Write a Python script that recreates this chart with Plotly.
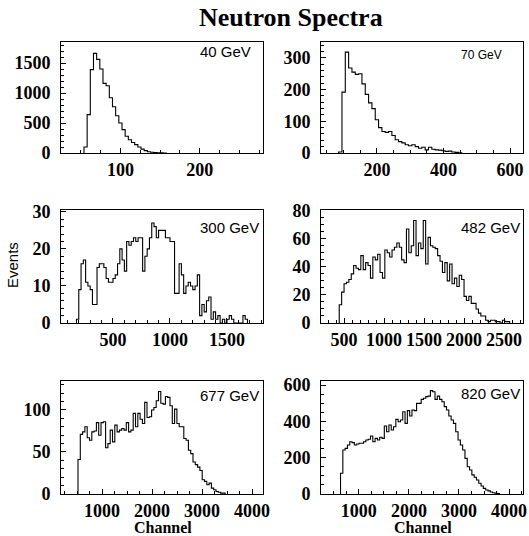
import numpy as np
import plotly.graph_objects as go

# ---------------- data ----------------
labels = ["40 GeV", "70 GeV", "300 GeV", "482 GeV", "677 GeV", "820 GeV"]
bin_start = [54, 85, 180, 440, 520, 635]
bin_width = [4, 10, 20, 30, 46, 46]

counts_40 = [100, 640, 1390, 1660, 1560, 1400, 1160, 1120, 920, 770, 620, 500, 390,
             280, 220, 175, 140, 100, 65, 40, 22, 12, 8, 4, 2, 1]
counts_70 = [3, 192, 318, 268, 255, 248, 250, 218, 185, 158, 140, 105, 80, 68, 65, 68,
             55, 42, 36, 32, 26, 23, 26, 20, 15, 18, 10, 18, 12, 10, 9, 7, 5, 6, 3, 2, 1]
counts_300 = [1, 9, 16, 17, 11, 10, 9, 5, 5, 15, 16, 16, 15, 12, 11, 11, 12, 13, 16, 20,
              17, 14, 22, 21, 22, 23, 22, 23, 23, 14, 18, 20, 23, 27, 26, 23, 25, 25, 25,
              23, 23, 22, 22, 8, 8, 16, 13, 8, 10, 11, 10, 9, 10, 13, 2, 5, 3, 6, 7, 1, 3,
              1, 2, 0, 1, 0, 1, 2, 1, 0, 0, 0, 0, 2, 1]
counts_482 = [13, 22, 28, 29, 31, 35, 41, 39, 38, 48, 38, 43, 41, 32, 47, 45, 49, 36, 32,
              52, 50, 47, 52, 54, 57, 54, 45, 43, 67, 50, 55, 73, 48, 57, 53, 73, 42, 61,
              55, 54, 53, 48, 44, 36, 43, 30, 42, 28, 32, 26, 34, 31, 19, 16, 19, 14, 14,
              10, 7, 5, 5, 2, 1, 2, 2, 1, 1, 0, 2, 1, 1]
counts_677 = [41, 71, 74, 80, 67, 64, 74, 75, 85, 70, 85, 86, 55, 60, 76, 62, 82, 74, 76,
              78, 76, 85, 74, 76, 96, 80, 96, 89, 84, 109, 91, 92, 100, 103, 111, 122, 108,
              107, 116, 115, 105, 84, 101, 84, 80, 80, 66, 64, 52, 48, 38, 35, 32, 28, 17,
              15, 11, 13, 7, 5, 3, 2, 1, 1]
counts_820 = [114, 242, 251, 270, 288, 283, 270, 275, 279, 279, 288, 297, 301, 319, 288,
              306, 297, 312, 306, 374, 343, 380, 352, 370, 411, 398, 407, 453, 389, 459,
              429, 462, 459, 499, 499, 521, 527, 536, 539, 569, 563, 521, 539, 521, 508,
              481, 462, 429, 407, 389, 343, 297, 270, 242, 196, 150, 132, 105, 92, 77, 59,
              44, 31, 22, 17, 11, 7, 4, 2]
all_counts = [counts_40, counts_70, counts_300, counts_482, counts_677, counts_820]

x_ranges = [[25, 280], [32, 639], [44, 1816], [212, 2737], [180, 4220], [245, 4278]]
y_ranges = [[0, 1850], [0, 350], [0, 30.5], [0, 80.5], [0, 134.5], [0, 622]]
x_dtick = [100, 200, 500, 500, 1000, 1000]
x_minor = [25, 50, 100, 100, 250, 250]
y_dtick = [500, 100, 10, 20, 50, 200]
y_minor = [100, 20, 2, 5, 10, 50]

# ---------------- layout geometry ----------------
W, H = 529, 536
col_px = [(61, 263), (321, 523)]
row_px = [(42, 153), (210, 323), (381, 494)]


def px_x(p):
    return p / W


def px_y(p):
    return 1 - p / H


tick_font = dict(family="Liberation Serif", size=18, color="black", weight="bold")

fig = go.Figure()
layout = dict(width=W, height=H, margin=dict(l=0, r=0, t=0, b=0, autoexpand=False),
              autosize=False, showlegend=False, paper_bgcolor="white", plot_bgcolor="white")

for i in range(6):
    r, c = divmod(i, 2)
    n = i + 1
    xa = "xaxis" if n == 1 else f"xaxis{n}"
    ya = "yaxis" if n == 1 else f"yaxis{n}"
    xr = "x" if n == 1 else f"x{n}"
    yr = "y" if n == 1 else f"y{n}"
    cnt = np.array(all_counts[i], dtype=float)
    edges = bin_start[i] + bin_width[i] * np.arange(len(cnt) + 1)
    xs = np.concatenate([[edges[0]], edges])
    ys = np.concatenate([[0], cnt, [0]])
    fig.add_trace(go.Scatter(x=xs, y=ys, mode="lines", line=dict(color="black", width=1.1, shape="hv"),
                             xaxis=xr, yaxis=yr, hoverinfo="skip"))
    cx0, cx1 = col_px[c]
    ry0, ry1 = row_px[r]
    layout[xa] = dict(domain=[px_x(cx0), px_x(cx1)], range=x_ranges[i], anchor=yr,
                      showline=True, mirror=True, linecolor="black", linewidth=1,
                      showgrid=False, zeroline=False, ticks="inside", ticklen=5,
                      tickcolor="black", dtick=x_dtick[i], tick0=0, tickfont=tick_font,
                      ticklabelstandoff=0, automargin=False, ticklabeloverflow="allow",
                      minor=dict(ticks="inside", ticklen=3, dtick=x_minor[i], tick0=0,
                                 tickcolor="black", showgrid=False))
    layout[ya] = dict(domain=[px_y(ry1), px_y(ry0)], range=y_ranges[i], anchor=xr,
                      showline=True, mirror=True, linecolor="black", linewidth=1,
                      showgrid=False, zeroline=False, ticks="inside", ticklen=5,
                      tickcolor="black", dtick=y_dtick[i], tick0=0, tickfont=tick_font,
                      ticklabelstandoff=6, automargin=False, ticklabeloverflow="allow",
                      minor=dict(ticks="inside", ticklen=3, dtick=y_minor[i], tick0=0,
                                 tickcolor="black", showgrid=False))

label_pos = [(198, 52, 15), (459, 55, 12), (198, 227, 15), (459, 227, 15),
             (198, 395, 15), (459, 393, 15)]
annotations = []
for i, (lx, ly, ls) in enumerate(label_pos):
    annotations.append(dict(text=labels[i], x=px_x(lx), y=px_y(ly), xref="paper", yref="paper",
                            xanchor="left", yanchor="middle", showarrow=False,
                            font=dict(family="Liberation Sans", size=ls, color="black")))

annotations.append(dict(text="Neutron Spectra", x=px_x(291), y=px_y(17), xref="paper", yref="paper",
                        xanchor="center", yanchor="middle", showarrow=False,
                        font=dict(family="Liberation Serif", size=26, color="black", weight="bold")))
annotations.append(dict(text="Events", x=px_x(12), y=px_y(265), xref="paper", yref="paper",
                        xanchor="center", yanchor="middle", showarrow=False, textangle=-90,
                        font=dict(family="Liberation Sans", size=15, color="black")))
for cxp in (163, 423):
    annotations.append(dict(text="Channel", x=px_x(cxp), y=px_y(527), xref="paper", yref="paper",
                            xanchor="center", yanchor="middle", showarrow=False,
                            font=dict(family="Liberation Serif", size=16, color="black", weight="bold")))
layout["annotations"] = annotations

fig.update_layout(**layout)
fig.write_html("out.html", config={"displayModeBar": False},
               post_script="document.body.style.margin='0';document.body.style.overflow='hidden';")
